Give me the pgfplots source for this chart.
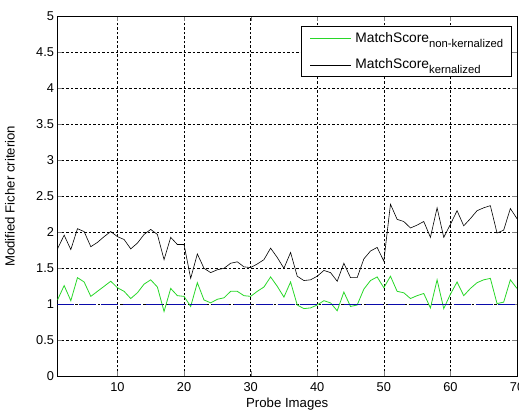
\documentclass[border=0pt]{standalone}
\usepackage{fontspec}
\setmainfont{Liberation Sans}
\usepackage{pgfplots}
\pgfplotsset{compat=1.18}
\usepackage{pgfplotstable}

\pgfplotstableread{
x k n
1 1.77 1.06
2 1.96 1.26
3 1.76 1.05
4 2.05 1.37
5 2.01 1.31
6 1.80 1.11
7 1.86 1.18
8 1.94 1.25
9 2.01 1.32
10 1.94 1.23
11 1.90 1.18
12 1.77 1.08
13 1.85 1.16
14 1.97 1.28
15 2.04 1.34
16 1.97 1.24
17 1.62 0.90
18 1.93 1.22
19 1.83 1.12
20 1.83 1.11
21 1.36 0.97
22 1.70 1.30
23 1.50 1.06
24 1.44 1.02
25 1.48 1.07
26 1.50 1.09
27 1.57 1.18
28 1.59 1.18
29 1.52 1.12
30 1.51 1.11
31 1.56 1.18
32 1.62 1.24
33 1.78 1.38
34 1.65 1.25
35 1.50 1.10
36 1.72 1.31
37 1.39 0.99
38 1.33 0.94
39 1.34 0.95
40 1.39 0.99
41 1.47 1.05
42 1.44 1.02
43 1.32 0.91
44 1.57 1.17
45 1.37 0.97
46 1.37 0.99
47 1.63 1.21
48 1.74 1.33
49 1.79 1.38
50 1.60 1.23
51 2.39 1.39
52 2.18 1.18
53 2.15 1.16
54 2.06 1.08
55 2.10 1.12
56 2.15 1.15
57 1.93 0.95
58 2.34 1.34
59 1.93 0.94
60 2.11 1.14
61 2.30 1.31
62 2.09 1.12
63 2.19 1.22
64 2.30 1.30
65 2.34 1.34
66 2.37 1.36
67 1.99 1.01
68 2.03 1.03
69 2.33 1.34
70 2.19 1.22
}\datatable

\definecolor{mgreen}{RGB}{40,215,40}
\definecolor{mblue}{RGB}{10,10,170}

\begin{document}
\begin{tikzpicture}
\begin{axis}[
  scale only axis, width=459.5pt, height=360pt,
  xmin=1, xmax=70, ymin=0, ymax=5,
  xtick={10,20,30,40,50,60,70},
  ytick={0,0.5,1,1.5,2,2.5,3,3.5,4,4.5,5},
  yticklabels={0,0.5,1,1.5,2,2.5,3,3.5,4,4.5,5},
  /pgf/number format/assume math mode=true,
  tick label style={font=\fontsize{12.8}{14}\selectfont},
  xticklabel style={yshift=-3pt},
  label style={font=\fontsize{13.2}{15}\selectfont},
  xlabel={Probe Images},
  ylabel={Modified Ficher criterion},
  xlabel style={at={(axis description cs:0.5,-0.077)}, anchor=center},
  ylabel style={at={(axis description cs:-0.1034,0.5)}, anchor=center},
  tick align=inside, major tick length=5pt,
  axis line style={line width=0.8pt},
  grid=major,
  major grid style={black, dash pattern=on 2.5pt off 2pt, line width=0.6pt},
  legend cell align=left,
  legend style={at={(0.989,0.9731)}, anchor=north east,
    draw=black, line width=0.6pt, fill=white,
    font=\fontsize{13.8}{16}\selectfont,
    inner xsep=6.4pt, inner ysep=4pt, row sep=10.8pt},
]
\addplot[mgreen, line width=0.8pt, legend image code/.code={}]
  table[x=x, y=n] {\datatable};
\addlegendentry{\textcolor{mgreen}{\rule[3pt]{41pt}{1pt}}\hspace{4.3pt}MatchScore\raisebox{-5pt}{\fontsize{11.3}{12}\selectfont non-kernalized}}
\addplot[black, line width=0.6pt, legend image code/.code={}]
  table[x=x, y=k] {\datatable};
\addlegendentry{\textcolor{black}{\rule[3pt]{41pt}{0.7pt}}\hspace{4.3pt}MatchScore\raisebox{-5pt}{\fontsize{11.3}{12}\selectfont kernalized}\rule[-9.5pt]{0pt}{1pt}}
\addplot[mblue, line width=0.8pt, dash pattern=on 17pt off 5pt, forget plot] coordinates {(1,1) (70,1)};
\end{axis}
\pgfresetboundingbox
\path[use as bounding box] (-57.5pt,-37.7pt) rectangle (461.5pt,376.3pt);
\end{tikzpicture}
\end{document}
